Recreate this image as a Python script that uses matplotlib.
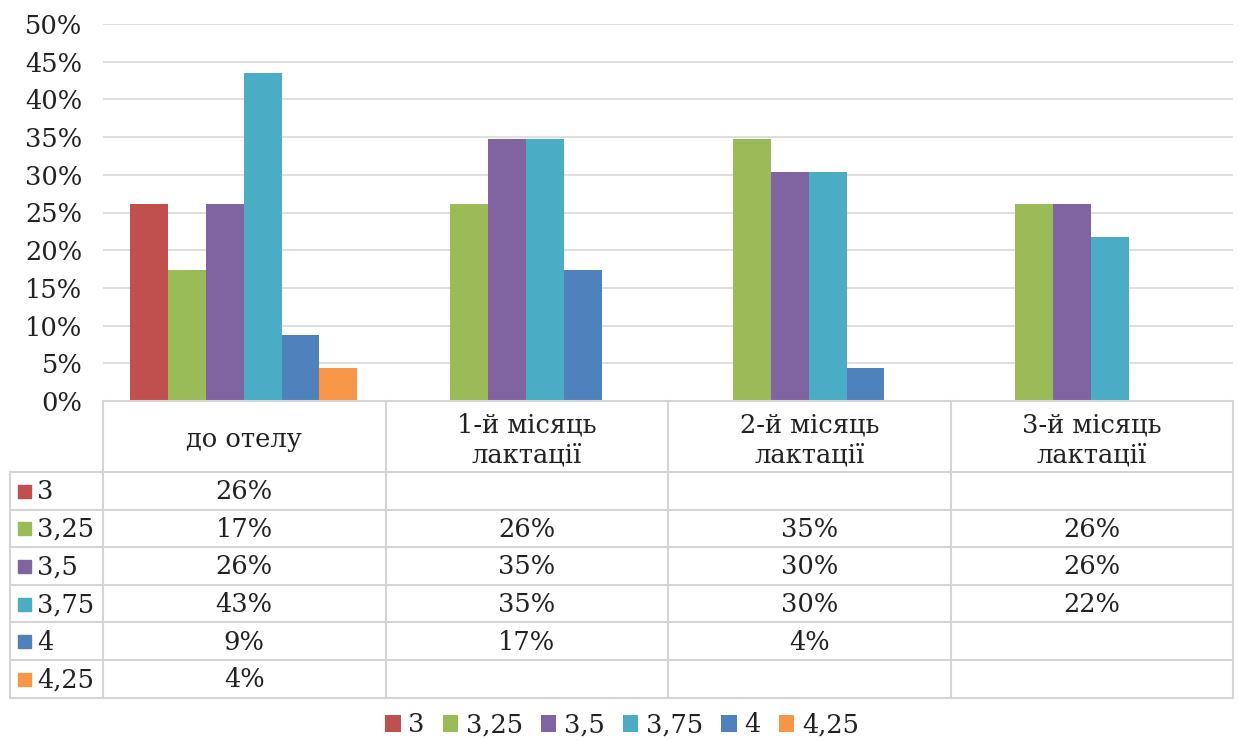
import numpy as np
import matplotlib.pyplot as plt

# data (percent)
categories = ['до отелу', '1-й місяць\nлактації', '2-й місяць\nлактації', '3-й місяць\nлактації']
series_names = ['3', '3,25', '3,5', '3,75', '4', '4,25']
s_3 = [26.09, np.nan, np.nan, np.nan]
s_325 = [17.39, 26.09, 34.78, 26.09]
s_35 = [26.09, 34.78, 30.43, 26.09]
s_375 = [43.48, 34.78, 30.43, 21.74]
s_4 = [8.70, 17.39, 4.35, np.nan]
s_425 = [4.35, np.nan, np.nan, np.nan]
colors = ['#C0504D', '#9BBB59', '#8064A2', '#4BACC6', '#4F81BD', '#F79646']

series = [s_3, s_325, s_35, s_375, s_4, s_425]

plt.rcParams['font.family'] = ['DejaVu Serif']
FS = 18.5
TC = '#222222'
W, H = 1239, 740
fig = plt.figure(figsize=(W / 100, H / 100), dpi=100)

# plot area in pixels
x0, x1, ytop, ybot = 103, 1233, 24, 401
ax = fig.add_axes([x0 / W, 1 - ybot / H, (x1 - x0) / W, (ybot - ytop) / H])

bw = 0.134
off = 0.096
x = np.arange(len(categories))
handles = []
for j, (name, vals, c) in enumerate(zip(series_names, series, colors)):
    h = ax.bar(x + off + bw * (j + 0.5), vals, width=bw, color=c, label=name)
    handles.append(h)

ax.set_xlim(0, 4)
ax.set_ylim(0, 50)
ax.set_yticks(np.arange(0, 51, 5))
ax.set_yticklabels([f'{t}%' for t in range(0, 51, 5)], fontsize=FS, color=TC)
ax.set_xticks([])
ax.yaxis.grid(True, color='#d9d9d9', linewidth=1.2)
ax.set_axisbelow(True)
for s in ax.spines.values():
    s.set_visible(False)
ax.tick_params(axis='y', length=0, pad=15)

# data table below the plot, drawn in pixel coordinates
tab = fig.add_axes([0, 0, 1, 1])
tab.set_xlim(0, W)
tab.set_ylim(H, 0)
tab.axis('off')
gc = '#d4d4d4'
col_x = [x0 + (x1 - x0) * i / 4 for i in range(5)]
hdr_bot = 472
row_h = 37.6
rows_y = [hdr_bot + row_h * i for i in range(len(series) + 1)]
left = 10

tab.plot([x0, x1], [ybot, ybot], color=gc, lw=1.5)
for cx in col_x:
    tab.plot([cx, cx], [ybot, rows_y[-1]], color=gc, lw=1.5)
tab.plot([left, left], [hdr_bot, rows_y[-1]], color=gc, lw=1.5)
for ry in rows_y:
    tab.plot([left, x1], [ry, ry], color=gc, lw=1.5)

for i, cat in enumerate(categories):
    tab.text((col_x[i] + col_x[i + 1]) / 2, (ybot + hdr_bot) / 2 + 3, cat,
             ha='center', va='center', fontsize=FS, color=TC, linespacing=1.25)

for r, (name, vals, c) in enumerate(zip(series_names, series, colors)):
    yc = (rows_y[r] + rows_y[r + 1]) / 2
    tab.add_patch(plt.Rectangle((18, yc - 6), 13, 13, color=c))
    tab.text(37, yc + 1, name, ha='left', va='center', fontsize=FS, color=TC)
    for i, v in enumerate(vals):
        if not np.isnan(v):
            tab.text((col_x[i] + col_x[i + 1]) / 2, yc + 1, f'{round(v)}%',
                     ha='center', va='center', fontsize=FS, color=TC)

fig.legend(handles=handles, labels=series_names, loc='center', bbox_to_anchor=(0.502, 1 - 725 / H),
           ncol=6, frameon=False, fontsize=FS, handlelength=0.6, handleheight=0.6,
           handletextpad=0.3, columnspacing=0.7, labelcolor=TC)

fig.savefig('out.png', dpi=100, facecolor='white')
